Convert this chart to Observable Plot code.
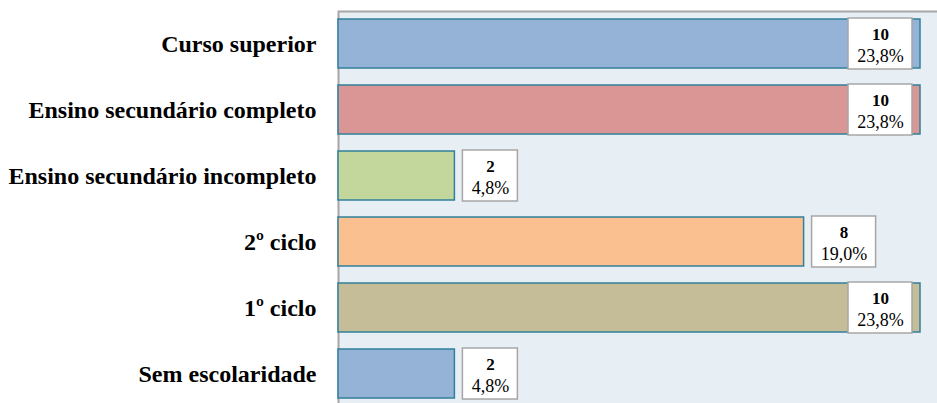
<!DOCTYPE html>
<html>
<head>
<meta charset="utf-8">
<script src="https://cdn.jsdelivr.net/npm/d3@7"></script>
<script src="https://cdn.jsdelivr.net/npm/@observablehq/plot@0.6"></script>
<style>
  body { margin: 0; background: #fff; }
  #chart { width: 937px; height: 403px; overflow: hidden; }
  #chart svg text { font-family: "Liberation Serif", "Times New Roman", serif; }
</style>
</head>
<body>
<div id="chart"></div>
<script>
// Escolaridade: number of respondents per level
const categories = [
  "Curso superior",
  "Ensino secundário completo",
  "Ensino secundário incompleto",
  "2º ciclo",
  "1º ciclo",
  "Sem escolaridade"
];
const counts = [10, 10, 2, 8, 10, 2];
const barColors = ["#95b3d7", "#d99694", "#c3d69b", "#fac090", "#c4bd97", "#95b3d7"];

const total = d3.sum(counts);
const data = categories.map((cat, i) => ({
  cat,
  value: counts[i],
  pct: (counts[i] / total * 100).toFixed(1).replace(".", ",") + "%"
}));

const serif = "Liberation Serif, Times New Roman, serif";
const countFont = { size: 17, weight: "bold" };
const pctFont = { size: 18, weight: "normal" };

const width = 937, height = 403;
const xDomain = [0, 10];
const xRange = [338, 920];
const xPix = d3.scaleLinear(xDomain, xRange);

// text measurement for sizing the value boxes
const ctx = document.createElement("canvas").getContext("2d");
function textWidth(s, f) {
  ctx.font = `${f.weight} ${f.size}px "Liberation Serif", serif`;
  return ctx.measureText(s).width;
}

const gap = 8, pad = 9;
const labelMarks = data.flatMap(d => {
  const w = Math.round(Math.max(textWidth(String(d.value), countFont), textWidth(d.pct, pctFont)) + 2 * pad);
  const outside = xPix(d.value) + gap + w <= width - 4;
  const insetLeft = outside ? gap : -(gap + w);
  const insetRight = outside ? -(gap + w) : gap;
  const cx = outside ? gap + w / 2 : -(gap + w / 2);
  return [
    Plot.rect([d], {
      x1: "value", x2: "value", y: "cat",
      insetLeft, insetRight, insetTop: -1, insetBottom: -1,
      fill: "white", stroke: "#a6a6a6", strokeWidth: 1.5
    }),
    Plot.text([d], {
      x: "value", y: "cat", text: d => String(d.value), dx: cx, dy: -9,
      fontFamily: serif, fontSize: countFont.size, fontWeight: "bold", fill: "#000"
    }),
    Plot.text([d], {
      x: "value", y: "cat", text: "pct", dx: cx, dy: 12,
      fontFamily: serif, fontSize: pctFont.size, fill: "#000"
    })
  ];
});

const chart = Plot.plot({
  width, height,
  marginLeft: 338, marginRight: 0, marginTop: 11, marginBottom: 0,
  style: { fontFamily: serif, background: "#fff" },
  x: { domain: xDomain, range: xRange, axis: null },
  y: { domain: categories, range: [19, 398], paddingInner: 0.2576, paddingOuter: 0 },
  color: { domain: categories, range: barColors },
  marks: [
    Plot.frame({ fill: "#e8eff4", stroke: "#a6a6a6", strokeWidth: 2, insetRight: -4, insetBottom: -4 }),
    Plot.barX(data, { x: "value", y: "cat", fill: "cat", stroke: "#31809a", strokeWidth: 1.5 }),
    ...labelMarks,
    Plot.axisY({
      tickSize: 0, tickPadding: 22, label: null,
      fontFamily: serif, fontSize: 24, fontWeight: "bold", fill: "#000"
    })
  ]
});
document.getElementById("chart").append(chart);
</script>
</body>
</html>
